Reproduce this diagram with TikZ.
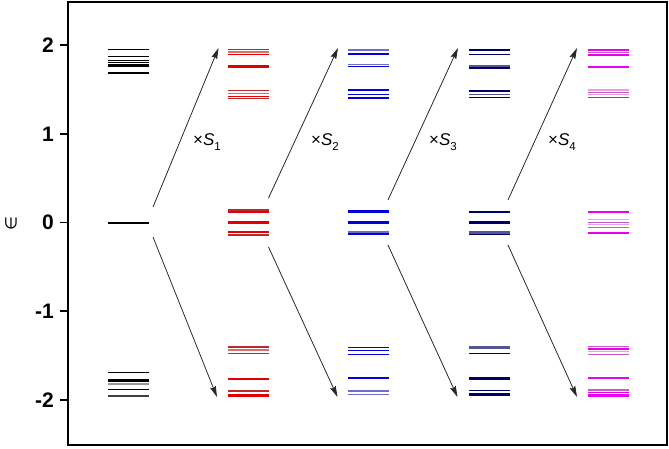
\documentclass[tikz,border=0pt]{standalone}
\usepackage{fontspec}
\setmainfont{Liberation Sans}
\newfontfamily\djv{DejaVu Sans}
\usetikzlibrary{arrows.meta}
\definecolor{cred}{RGB}{228,0,0}
\definecolor{credl}{RGB}{220,110,110}
\definecolor{credd}{RGB}{190,40,40}
\definecolor{cblue}{RGB}{0,0,215}
\definecolor{cbluel}{RGB}{110,110,200}
\definecolor{cnavy}{RGB}{0,0,105}
\definecolor{cnavyl}{RGB}{85,85,145}
\definecolor{cmag}{RGB}{235,0,235}
\definecolor{cmagm}{RGB}{200,90,200}
\definecolor{cmagl}{RGB}{230,160,230}
\definecolor{arrowgray}{RGB}{40,40,40}
\tikzset{
  arr/.style={draw=arrowgray,line width=0.8pt,-{Stealth[length=11pt,width=6pt,inset=1.5pt]}},
  ticklab/.style={anchor=east,inner sep=0pt,font=\fontsize{21}{21}\selectfont\bfseries},
  slab/.style={anchor=base west,inner sep=0pt,font=\fontsize{17}{17}\selectfont},
}
\newcommand\lvl[4]{\draw[line width=#4pt,#3] (#1,#2) -- ++(41,0);}
\begin{document}
\begin{tikzpicture}[x=1pt,y=-1pt]
\useasboundingbox (0,0) rectangle (669,448);
% frame
\draw[line width=1.6pt] (68,2) rectangle (667,445);
% ticks and labels
\foreach \v/\t in {45/2,134/1,222.5/0,311/-1,400/-2}{
  \draw[line width=1.2pt] (60,\v) -- (68,\v);
  \node[ticklab] at (54,\v) {\t};
}
\node[rotate=90,inner sep=0pt,font=\djv\fontsize{16}{16}\selectfont] (elab) at (11,224) {∈};
% column 1 (black)
\lvl{108}{49.3}{black}{1.2}
\lvl{108}{56.5}{black}{1.2}
\lvl{108}{60.3}{black}{1.1}
\lvl{108}{62.5}{black}{1.0}
\lvl{108}{65.3}{black}{2.6}
\lvl{108}{72.8}{black}{1.8}
\lvl{108}{222.5}{black}{2}
\lvl{108}{372.5}{black}{1.4}
\lvl{108}{380.6}{black}{3}
\lvl{108}{384}{black!40}{2}
\lvl{108}{389.3}{black}{1.4}
\lvl{108}{395.7}{black!75}{1.8}
% column 2 (red)
\lvl{228}{49.5}{credd}{1.5}
\lvl{228}{52}{credl}{1.2}
\lvl{228}{54.5}{cred}{1.5}
\lvl{228}{66}{cred}{3}
\lvl{228}{90.7}{credd}{1.5}
\lvl{228}{93.3}{credl}{1.2}
\lvl{228}{96.3}{cred}{1.5}
\lvl{228}{98.7}{credd}{1.5}
\lvl{228}{210.2}{credd}{2}
\lvl{228}{212.4}{cred}{2}
\lvl{228}{222.5}{cred}{2.6}
\lvl{228}{232.3}{cred}{2}
\lvl{228}{234.5}{credd}{2}
\lvl{228}{347}{credd}{1.5}
\lvl{228}{350}{credl}{1.2}
\lvl{228}{353.7}{credd}{1.5}
\lvl{228}{379}{cred}{2.5}
\lvl{228}{391}{credd}{2}
\lvl{228}{395.3}{cred}{2.5}
% column 3 (blue)
\lvl{348}{50}{cbluel}{1.5}
\lvl{348}{54.3}{cblue}{1.8}
\lvl{348}{64.8}{cbluel}{1}
\lvl{348}{66.5}{cblue}{1.6}
\lvl{348}{90}{cblue}{1.5}
\lvl{348}{94.3}{cblue}{1.4}
\lvl{348}{97.7}{cblue}{1.6}
\lvl{348}{211.5}{cblue}{2.4}
\lvl{348}{222.3}{cblue}{2.4}
\lvl{348}{232}{cbluel}{2}
\lvl{348}{234}{cblue}{1.8}
\lvl{348}{347.3}{cblue}{1.3}
\lvl{348}{350.7}{cblue}{1.3}
\lvl{348}{354.3}{cblue}{1.3}
\lvl{348}{378.3}{cblue}{2}
\lvl{348}{391}{cbluel}{1.5}
\lvl{348}{394.5}{cbluel}{1.5}
% column 4 (navy)
\lvl{469}{50}{cnavy}{2}
\lvl{469}{54.5}{cnavy}{1.5}
\lvl{469}{65.5}{cnavyl}{2}
\lvl{469}{68}{cnavy}{1.2}
\lvl{469}{91}{cnavy}{1.5}
\lvl{469}{94.3}{cnavyl}{1.2}
\lvl{469}{97.7}{cnavy}{1.5}
\lvl{469}{211.7}{cnavy}{2.2}
\lvl{469}{222.3}{cnavy}{2.4}
\lvl{469}{232.2}{cnavyl}{2.6}
\lvl{469}{234.3}{cnavy}{1.2}
\lvl{469}{347.7}{cnavyl}{3}
\lvl{469}{353.7}{cnavy}{1.5}
\lvl{469}{378.3}{cnavy}{3.5}
\lvl{469}{390.3}{cnavy}{1.5}
\lvl{469}{394.3}{cnavy}{2.5}
% column 5 (magenta)
\lvl{588}{50}{cmag}{1.5}
\lvl{588}{52.7}{cmagm}{1.5}
\lvl{588}{55}{cmag}{1.5}
\lvl{588}{66.7}{cmag}{2}
\lvl{588}{90}{cmagl}{1.2}
\lvl{588}{92.3}{cmagm}{1.2}
\lvl{588}{94.6}{cmagl}{1.2}
\lvl{588}{97.7}{cmag}{1.5}
\lvl{588}{211.7}{cmag}{2}
\lvl{588}{219.5}{cmagl}{1}
\lvl{588}{222}{cmagm}{1}
\lvl{588}{224.5}{cmagl}{1}
\lvl{588}{227}{cmagm}{1}
\lvl{588}{232.7}{cmag}{2}
\lvl{588}{346.7}{cmagm}{1.5}
\lvl{588}{349}{cmag}{1.5}
\lvl{588}{351.5}{cmagl}{1.2}
\lvl{588}{354.3}{cmagm}{1.3}
\lvl{588}{378.3}{cmag}{1.8}
\lvl{588}{390}{cmagm}{1.2}
\lvl{588}{392.3}{cmag}{1.5}
\lvl{588}{395.3}{cmag}{2.5}
% arrow end points
\coordinate (u1s) at (153,207); \coordinate (u1e) at (218.5,48);
\coordinate (d1s) at (153,237); \coordinate (d1e) at (217,397);
\coordinate (u2s) at (268.5,198); \coordinate (u2e) at (338,48);
\coordinate (d2s) at (268.5,247); \coordinate (d2e) at (337.5,397);
\coordinate (u3s) at (388,200); \coordinate (u3e) at (458,48);
\coordinate (d3s) at (388,245); \coordinate (d3e) at (457.5,397);
\coordinate (u4s) at (508,200); \coordinate (u4e) at (577,48);
\coordinate (d4s) at (508,245); \coordinate (d4e) at (577,397);
\foreach \i in {1,2,3,4}{
  \draw[arr] (u\i s) -- (u\i e);
  \draw[arr] (d\i s) -- (d\i e);
}
% labels
\foreach \i/\x in {1/193,2/311,3/429,4/548}{
  \node[slab] (s\i) at (\x,145) {×\textit{S}\raisebox{-5pt}{\fontsize{11.5}{11.5}\selectfont\i}};
}
\end{tikzpicture}
\end{document}
